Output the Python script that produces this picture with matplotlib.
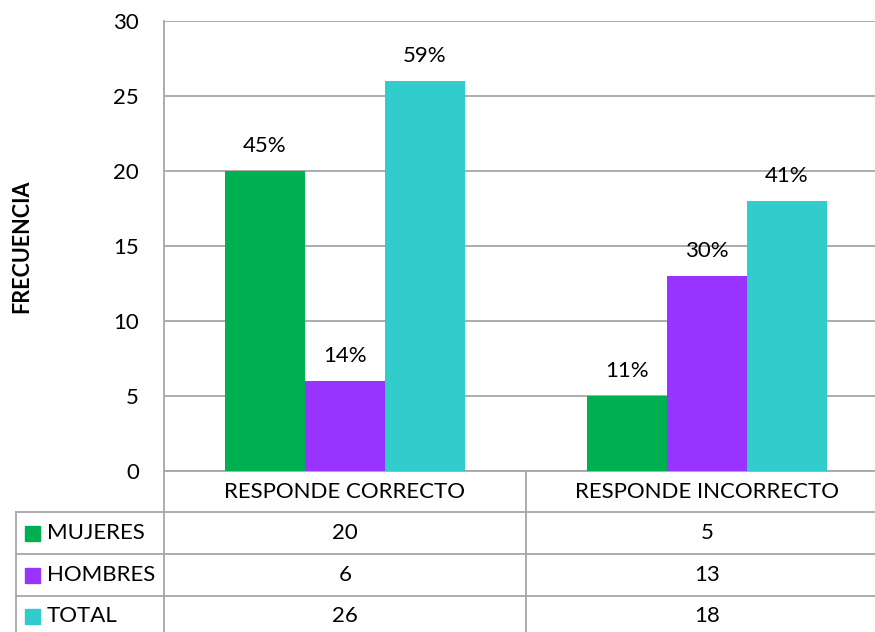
import numpy as np
import matplotlib
matplotlib.use('Agg')
import matplotlib.pyplot as plt
from matplotlib.patches import Rectangle

categorias = ['RESPONDE CORRECTO', 'RESPONDE INCORRECTO']
series = ['MUJERES', 'HOMBRES', 'TOTAL']
mujeres = [20, 5]
hombres = [6, 13]
total = [26, 18]
porcentajes = [['45%', '11%'], ['14%', '30%'], ['59%', '41%']]
colores = ['#00B050', '#9933FF', '#33CCCC']

plt.rcParams['font.family'] = ['Lato', 'DejaVu Sans']
gris = '#a6a6a6'
fs = 16

W, H = 875, 632
fig = plt.figure(figsize=(W / 100, H / 100), dpi=100)
# area del grafico; la parte derecha queda fuera de la figura
ax = fig.add_axes([164 / W, (H - 471) / H, 724 / W, 450 / H])

x = np.arange(len(categorias))
ancho = 0.221
valores = [mujeres, hombres, total]
for i in range(len(series)):
    barras = ax.bar(x + (i - 1) * ancho, valores[i], ancho, color=colores[i], zorder=3)
    for b, p in zip(barras, porcentajes[i]):
        ax.annotate(p, (b.get_x() + b.get_width() / 2, b.get_height()),
                    xytext=(0, 13.5), textcoords='offset points',
                    ha='center', va='baseline', fontsize=fs)

ax.set_xlim(-0.5, 1.5)
ax.set_ylim(0, 30)
ax.set_yticks(range(0, 31, 5))
ax.yaxis.grid(True, color=gris, lw=1.3)
ax.set_axisbelow(True)
ax.tick_params(axis='y', length=0, pad=18, labelsize=fs)
ax.set_xticks([])
for s in ['top', 'right']:
    ax.spines[s].set_visible(False)
for s in ['left', 'bottom']:
    ax.spines[s].set_color(gris)
    ax.spines[s].set_linewidth(1.3)

fig.text(22 / W, 1 - 246 / H, 'FRECUENCIA', rotation=90, ha='center', va='center',
         fontsize=15.5, fontweight='bold')

# tabla de datos debajo del eje
tr = ax.get_xaxis_transform()
filas = [-0.0911, -0.1844, -0.2778]
fondo = -0.371
x_izq = -0.909
ax.plot([-0.5, -0.5], [0, fondo], color=gris, lw=1.3, transform=tr, clip_on=False)
ax.plot([0.5, 0.5], [0, fondo], color=gris, lw=1.3, transform=tr, clip_on=False)
ax.plot([x_izq, x_izq], [filas[0], fondo], color=gris, lw=1.3, transform=tr, clip_on=False)
for yf in filas:
    ax.plot([x_izq, 1.5], [yf, yf], color=gris, lw=1.3, transform=tr, clip_on=False)

for xi, c in zip(x, categorias):
    ax.text(xi, -0.0467, c, ha='center', va='center', fontsize=fs, transform=tr)

centros = [-0.1378, -0.2311, -0.3222]
for i, nombre in enumerate(series):
    yc = centros[i]
    ax.add_patch(Rectangle((-0.884, yc - 0.0167), 0.0414, 0.0333, color=colores[i],
                           transform=tr, clip_on=False))
    ax.text(-0.823, yc, nombre, ha='left', va='center', fontsize=fs, transform=tr)
    for xi, v in zip(x, valores[i]):
        ax.text(xi, yc, str(v), ha='center', va='center', fontsize=fs, transform=tr)

fig.savefig('out.png', dpi=100)
